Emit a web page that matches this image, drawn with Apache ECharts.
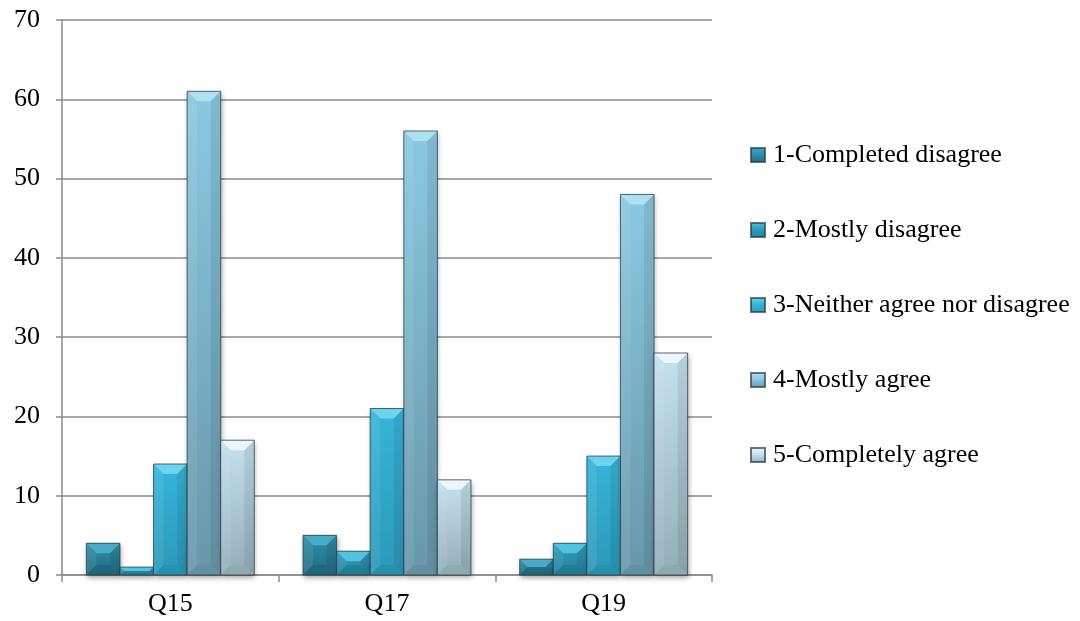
<!DOCTYPE html>
<html>
<head>
<meta charset="utf-8">
<title>Survey responses Q15, Q17, Q19</title>
<script src="https://cdn.jsdelivr.net/npm/echarts@6/dist/echarts.min.js"></script>
<style>
  html, body { margin: 0; padding: 0; background: #ffffff; }
  #chart { width: 1080px; height: 621px; }
</style>
</head>
<body>
<div id="chart"></div>
<script>
// Questions on the category axis
const questions = ['Q15', 'Q17', 'Q19'];

// Answer scale (one series per answer)
const answers = [
  '1-Completed disagree',
  '2-Mostly disagree',
  '3-Neither agree nor disagree',
  '4-Mostly agree',
  '5-Completely agree'
];

// Number of responses per answer, in question order
const completedDisagree = [4, 5, 2];
const mostlyDisagree    = [1, 3, 4];
const neitherAgree      = [14, 21, 15];
const mostlyAgree       = [61, 56, 48];
const completelyAgree   = [17, 12, 28];

const yTicks = [0, 10, 20, 30, 40, 50, 60, 70];

// Body gradient (top, bottom), light bevel colour, dark bevel colour
const palette = [
  { top: '#2f8fa8', bottom: '#216a80', light: '#49acc6', dark: '#1b5d70' },
  { top: '#2e9ebd', bottom: '#24809b', light: '#52c2df', dark: '#1f7089' },
  { top: '#37b5d9', bottom: '#2b98b8', light: '#6dd3ef', dark: '#2687a4' },
  { top: '#8bc9e1', bottom: '#6897ab', light: '#aee0f2', dark: '#5e8799' },
  { top: '#c4e2ee', bottom: '#93adb8', light: '#eaf7fc', dark: '#8aa3ad' }
];

const seriesData = [completedDisagree, mostlyDisagree, neitherAgree, mostlyAgree, completelyAgree];

const groupFill = 0.775;   // share of each category band taken by its bars
const bevel = 10;

function makeRender(sIdx) {
  const col = palette[sIdx];
  return function (params, api) {
    const ci = api.value(0);
    const v = api.value(1);
    const base = api.coord([ci, 0]);
    const top = api.coord([ci, v]);
    const band = api.size([1, 0])[0];
    const groupW = band * groupFill;
    const w = groupW / answers.length;
    const x0 = base[0] - groupW / 2 + sIdx * w;
    const x1 = x0 + w;
    const y0 = top[1];
    const y1 = base[1];
    const h = y1 - y0;
    const d = Math.max(0, Math.min(bevel, h / 2, w / 2));
    const bodyFill = new echarts.graphic.LinearGradient(0, 0, 0, 1, [
      { offset: 0, color: col.top },
      { offset: 1, color: col.bottom }
    ]);
    const children = [
      {
        type: 'rect',
        shape: { x: x0, y: y0, width: w, height: h },
        style: {
          fill: bodyFill,
          shadowBlur: 5,
          shadowOffsetX: 1,
          shadowOffsetY: 3,
          shadowColor: 'rgba(0,0,0,0.35)'
        }
      },
      // top bevel
      {
        type: 'polygon',
        shape: { points: [[x0, y0], [x1, y0], [x1 - d, y0 + d], [x0 + d, y0 + d]] },
        style: { fill: col.light }
      },
      // left bevel
      {
        type: 'polygon',
        shape: { points: [[x0, y0], [x0 + d, y0 + d], [x0 + d, y1 - d], [x0, y1]] },
        style: { fill: 'rgba(255,255,255,0.08)' }
      },
      // right bevel
      {
        type: 'polygon',
        shape: { points: [[x1, y0], [x1 - d, y0 + d], [x1 - d, y1 - d], [x1, y1]] },
        style: { fill: 'rgba(0,0,0,0.08)' }
      },
      // bottom bevel
      {
        type: 'polygon',
        shape: { points: [[x0, y1], [x1, y1], [x1 - d, y1 - d], [x0 + d, y1 - d]] },
        style: { fill: col.dark, opacity: 0.45 }
      },
      // outline
      {
        type: 'rect',
        shape: { x: x0, y: y0, width: w, height: h },
        style: { fill: 'none', stroke: 'rgba(40,60,70,0.75)', lineWidth: 1 }
      }
    ];
    return { type: 'group', children: children };
  };
}

const chart = echarts.init(document.getElementById('chart'), null, { renderer: 'canvas' });

const series = answers.map(function (name, s) {
  const col = palette[s];
  return {
    name: name,
    type: 'custom',
    renderItem: makeRender(s),
    encode: { x: 0, y: 1 },
    itemStyle: {
      color: new echarts.graphic.LinearGradient(0, 0, 0, 1, [
        { offset: 0, color: col.light },
        { offset: 0.45, color: col.top },
        { offset: 1, color: col.bottom }
      ]),
      borderColor: 'rgba(40,60,70,0.7)',
      borderWidth: 0.5
    },
    data: seriesData[s].map(function (val, i) { return [i, val]; })
  };
});

const serif = '"Liberation Serif", "Times New Roman", serif';
const fontSize = 26;

chart.setOption({
  animation: false,
  backgroundColor: '#ffffff',
  textStyle: { fontFamily: serif },
  grid: { left: 62, right: 368, top: 20, bottom: 46, containLabel: false },
  legend: {
    orient: 'vertical',
    left: 745,
    top: 137,
    itemWidth: 14,
    itemHeight: 14,
    itemGap: 49,
    icon: 'rect',
    data: answers,
    textStyle: { fontFamily: serif, fontSize: fontSize, color: '#000', lineHeight: 26, padding: [0, 0, 0, 3] }
  },
  xAxis: {
    type: 'category',
    data: questions,
    axisLine: { show: true, lineStyle: { color: '#8a8a8a', width: 1.5 } },
    axisTick: { show: true, length: 7, alignWithLabel: false, lineStyle: { color: '#8a8a8a', width: 1.5 } },
    axisLabel: { margin: 16, fontFamily: serif, fontSize: fontSize, color: '#000' },
    splitLine: { show: false }
  },
  yAxis: {
    type: 'value',
    min: yTicks[0],
    max: yTicks[yTicks.length - 1],
    interval: yTicks[1] - yTicks[0],
    axisLine: { show: true, lineStyle: { color: '#8a8a8a', width: 1.5 } },
    axisTick: { show: true, length: 6, lineStyle: { color: '#8a8a8a', width: 1.5 } },
    axisLabel: { margin: 22, fontFamily: serif, fontSize: fontSize, color: '#000' },
    splitLine: { show: true, lineStyle: { color: '#8a8a8a', width: 1.5 } }
  },
  series: series
});
</script>
</body>
</html>
